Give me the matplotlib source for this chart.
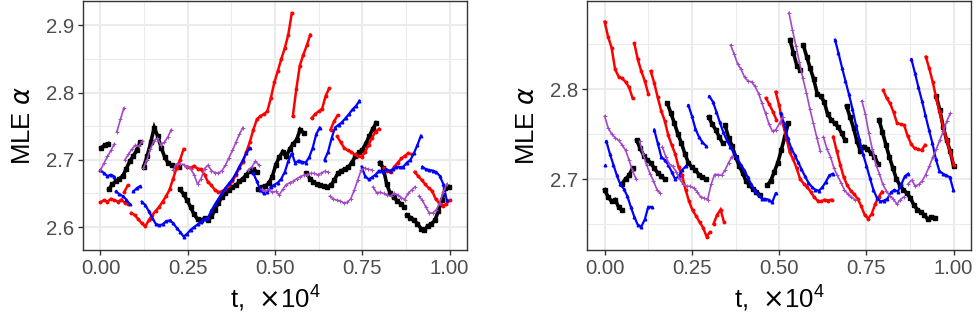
import numpy as np
import matplotlib
matplotlib.use('Agg')
from matplotlib import pyplot as plt

# time step between samples inside a run (units of 1e4)
dt = 0.01

# each series is a list of runs: (start t, [MLE alpha values])
# ---- left panel
red_l = [(0.000, [2.637, 2.640, 2.638, 2.642, 2.640, 2.638, 2.641, 2.636, 2.634]),
         (0.068, [2.652, 2.662]),
         (0.088, [2.621, 2.618, 2.612, 2.606, 2.601, 2.610, 2.618, 2.624, 2.630, 2.638,
                  2.646, 2.656, 2.672, 2.688, 2.700, 2.716]),
         (0.248, [2.690, 2.688, 2.691, 2.687, 2.686, 2.678, 2.667, 2.662, 2.655, 2.652,
                  2.653, 2.656, 2.662, 2.668, 2.678, 2.688, 2.697, 2.712, 2.727, 2.745,
                  2.760, 2.765, 2.768, 2.772, 2.792, 2.815, 2.832, 2.850, 2.866, 2.886, 2.918]),
         (0.551, [2.765, 2.805, 2.840, 2.856, 2.870, 2.886]),
         (0.605, [2.762, 2.768, 2.772, 2.776, 2.795, 2.806]),
         (0.659, [2.745, 2.757, 2.766]),
         (0.678, [2.735, 2.726, 2.718, 2.714, 2.712, 2.708, 2.706, 2.704, 2.712, 2.722,
                  2.733, 2.742, 2.746]),
         (0.812, [2.688, 2.684, 2.682, 2.690, 2.696, 2.702, 2.706, 2.710, 2.708]),
         (0.900, [2.682, 2.676, 2.670, 2.664, 2.658, 2.654, 2.642, 2.636, 2.632, 2.634, 2.640])]

black_l = [(0.002, [2.718, 2.722, 2.724]),
           (0.024, [2.656, 2.664, 2.668, 2.672, 2.676, 2.687, 2.698, 2.706, 2.714, 2.726]),
           (0.124, [2.690, 2.706, 2.726, 2.748, 2.735, 2.718, 2.704, 2.695, 2.692, 2.691, 2.690]),
           (0.228, [2.656, 2.649, 2.640, 2.630, 2.619, 2.612, 2.610, 2.613, 2.610, 2.616,
                    2.626, 2.636, 2.645, 2.650, 2.655, 2.660, 2.662, 2.668, 2.672, 2.678,
                    2.684, 2.686, 2.682]),
           (0.452, [2.656, 2.660, 2.661, 2.665, 2.675, 2.692, 2.704, 2.712, 2.705, 2.716,
                    2.724, 2.730, 2.745, 2.740]),
           (0.590, [2.680, 2.672, 2.667, 2.664, 2.662, 2.661, 2.660, 2.662, 2.670, 2.680,
                    2.684, 2.686, 2.689, 2.696, 2.705, 2.711, 2.715, 2.724, 2.735, 2.746, 2.755]),
           (0.800, [2.696, 2.688, 2.664, 2.650, 2.645, 2.639, 2.635, 2.630]),
           (0.878, [2.618, 2.614, 2.611, 2.605, 2.598, 2.596, 2.602, 2.605, 2.610, 2.624,
                    2.640, 2.658, 2.660])]

blue_l = [(0.000, [2.685, 2.680, 2.676, 2.678, 2.675]),
          (0.044, [2.653, 2.649, 2.646, 2.641, 2.634]),
          (0.094, [2.653, 2.658, 2.661]),
          (0.118, [2.638, 2.633, 2.624, 2.614, 2.605, 2.603, 2.604, 2.609, 2.610, 2.606,
                   2.599, 2.593, 2.586, 2.590, 2.596, 2.600, 2.604, 2.608, 2.612, 2.614,
                   2.625, 2.634, 2.642, 2.651, 2.658, 2.665, 2.671, 2.680, 2.690, 2.700,
                   2.710, 2.718]),
          (0.438, [2.680, 2.668, 2.655, 2.650, 2.652, 2.660, 2.663, 2.666, 2.672, 2.682,
                   2.698, 2.710, 2.695, 2.699, 2.697, 2.696, 2.704, 2.718, 2.738, 2.748]),
          (0.642, [2.700, 2.712, 2.732, 2.748, 2.752, 2.756, 2.762, 2.768, 2.775, 2.780, 2.788]),
          (0.748, [2.690, 2.676, 2.671, 2.674, 2.678, 2.684, 2.682, 2.686, 2.684, 2.686,
                   2.690, 2.689, 2.690, 2.696, 2.700, 2.710, 2.722, 2.736]),
          (0.922, [2.690, 2.686, 2.685, 2.684, 2.682, 2.676, 2.664, 2.640])]

purple_l = [(0.000, [2.685, 2.695, 2.705, 2.714, 2.724]),
            (0.047, [2.742, 2.760, 2.777]),
            (0.070, [2.700, 2.708, 2.716, 2.722, 2.720, 2.728]),
            (0.123, [2.688, 2.700, 2.716, 2.728, 2.732, 2.722, 2.726, 2.734, 2.745]),
            (0.208, [2.685, 2.694, 2.694, 2.693, 2.690, 2.687, 2.678, 2.664, 2.672, 2.687,
                     2.692, 2.684, 2.681, 2.680, 2.684, 2.692, 2.703, 2.714, 2.726, 2.738, 2.748]),
            (0.424, [2.685, 2.690, 2.698, 2.692]),
            (0.462, [2.656, 2.653, 2.656, 2.652, 2.653, 2.648, 2.656, 2.663, 2.666, 2.668,
                     2.672, 2.675, 2.677, 2.678, 2.680, 2.680, 2.678, 2.680, 2.683, 2.682]),
            (0.657, [2.646, 2.642, 2.640, 2.639, 2.636, 2.637, 2.642, 2.655, 2.670, 2.685,
                     2.688, 2.686, 2.685]),
            (0.781, [2.660, 2.651, 2.652, 2.650, 2.648, 2.646, 2.650, 2.648, 2.644, 2.641,
                     2.650, 2.655, 2.660]),
            (0.912, [2.646, 2.640, 2.630, 2.621, 2.621, 2.626, 2.636, 2.652, 2.664])]

# ---- right panel
red_r = [(0.000, [2.875, 2.858, 2.846, 2.822, 2.814, 2.812, 2.808, 2.802, 2.790]),
         (0.085, [2.851, 2.833, 2.820, 2.809, 2.795]),
         (0.132, [2.820, 2.807, 2.791, 2.776, 2.765, 2.749, 2.738, 2.728, 2.713, 2.704,
                  2.688, 2.675, 2.665, 2.659, 2.652, 2.646, 2.636, 2.641]),
         (0.312, [2.650, 2.660, 2.666, 2.652]),
         (0.462, [2.790, 2.783, 2.775, 2.766]),
         (0.490, [2.797, 2.782, 2.762, 2.747, 2.730, 2.722, 2.712, 2.700, 2.695, 2.691,
                  2.686, 2.680, 2.676, 2.675, 2.677, 2.676, 2.677]),
         (0.655, [2.747, 2.731, 2.716, 2.702, 2.693, 2.687, 2.683, 2.678, 2.670, 2.660,
                  2.656, 2.661, 2.672, 2.680, 2.686]),
         (0.798, [2.799, 2.790, 2.784, 2.774, 2.762, 2.761, 2.760, 2.748, 2.739, 2.734,
                  2.733, 2.732, 2.738]),
         (0.920, [2.836, 2.823, 2.808, 2.790, 2.774, 2.758, 2.743, 2.730, 2.716])]

black_r = [(0.000, [2.688, 2.680, 2.675, 2.677, 2.669, 2.665]),
           (0.050, [2.695, 2.700, 2.704, 2.712]),
           (0.092, [2.743, 2.734, 2.726, 2.721, 2.718, 2.712, 2.707, 2.703, 2.700]),
           (0.180, [2.784, 2.773, 2.762, 2.750, 2.740, 2.728, 2.718, 2.713, 2.710, 2.705,
                    2.702, 2.700]),
           (0.298, [2.769, 2.761, 2.755, 2.747, 2.740]),
           (0.345, [2.760, 2.746, 2.737, 2.725, 2.715, 2.707, 2.698, 2.693, 2.689, 2.686, 2.682]),
           (0.466, [2.693, 2.698, 2.708, 2.718, 2.732, 2.747, 2.762]),
           (0.531, [2.855, 2.840, 2.826, 2.821]),
           (0.569, [2.849, 2.836, 2.823, 2.811, 2.795, 2.792, 2.786, 2.772, 2.766, 2.762,
                    2.758, 2.751, 2.743]),
           (0.693, [2.781, 2.769, 2.757, 2.742, 2.731, 2.736, 2.733, 2.729, 2.725, 2.717]),
           (0.786, [2.766, 2.752, 2.738, 2.724, 2.712, 2.700, 2.693, 2.688, 2.684, 2.679,
                    2.671, 2.666, 2.663, 2.660, 2.655, 2.658, 2.657]),
           (0.950, [2.792, 2.777, 2.758, 2.743, 2.731, 2.714])]

blue_r = [(0.000, [2.716]),
          (0.005, [2.742, 2.728, 2.716, 2.704, 2.694, 2.689, 2.681, 2.669, 2.658, 2.649,
                   2.647, 2.655, 2.669, 2.669]),
          (0.142, [2.755, 2.740, 2.725, 2.721, 2.716, 2.708, 2.700, 2.703, 2.710, 2.714]),
          (0.240, [2.782, 2.770, 2.756, 2.747, 2.741, 2.737]),
          (0.300, [2.792, 2.786, 2.775, 2.763, 2.752, 2.743, 2.736, 2.729, 2.723, 2.716,
                   2.710, 2.702, 2.694, 2.687, 2.683, 2.678, 2.678, 2.677, 2.674, 2.684]),
          (0.504, [2.773, 2.762, 2.746, 2.735, 2.727, 2.719, 2.711, 2.703, 2.696, 2.691,
                   2.688, 2.687, 2.691, 2.697, 2.704, 2.706]),
          (0.660, [2.855, 2.840, 2.824, 2.809, 2.794, 2.778, 2.760, 2.744, 2.728, 2.715,
                   2.701, 2.688, 2.679, 2.675, 2.676, 2.678, 2.685, 2.688, 2.686, 2.694,
                   2.703, 2.706]),
          (0.879, [2.833, 2.818, 2.802, 2.787, 2.771, 2.755, 2.740, 2.722, 2.709, 2.706,
                   2.704, 2.702, 2.688])]

purple_r = [(0.000, [2.770, 2.757, 2.750, 2.746, 2.743, 2.738, 2.732, 2.721, 2.709, 2.700]),
            (0.100, [2.742, 2.728, 2.716, 2.706, 2.698, 2.688, 2.684]),
            (0.165, [2.736, 2.725, 2.717, 2.714, 2.708, 2.700, 2.694, 2.692, 2.692, 2.690,
                     2.686, 2.680, 2.679, 2.677, 2.694, 2.705, 2.705, 2.704, 2.710, 2.718, 2.725]),
            (0.361, [2.849, 2.839, 2.828, 2.822, 2.813, 2.809, 2.808, 2.803, 2.795, 2.784,
                     2.773, 2.761, 2.753, 2.755, 2.762, 2.769]),
            (0.528, [2.885, 2.866, 2.848, 2.830, 2.812, 2.796, 2.778, 2.762, 2.746, 2.731]),
            (0.627, [2.747, 2.733, 2.725, 2.712, 2.704, 2.696, 2.688, 2.683, 2.680, 2.677]),
            (0.737, [2.787, 2.772, 2.751, 2.733, 2.716, 2.706, 2.694, 2.687, 2.681, 2.678,
                     2.672, 2.677, 2.680]),
            (0.870, [2.695, 2.699, 2.692, 2.694, 2.698, 2.705, 2.714, 2.724, 2.733, 2.743,
                     2.753, 2.764, 2.773])]

styles = {
    'black': dict(color='black', lw=2.6, marker='s', ms=2.2),
    'red': dict(color='#FF0000', lw=1.8, marker='o', ms=1.8),
    'blue': dict(color='#0000FF', lw=1.6, marker='^', ms=1.9),
    'purple': dict(color='#A448C8', lw=1.2, marker='+', ms=2.2, mew=0.7),
}

plt.rcParams['font.family'] = ['Liberation Sans', 'DejaVu Sans']
plt.rcParams['mathtext.fontset'] = 'dejavusans'

fig = plt.figure(figsize=(9.77, 3.29), dpi=100)
ax1 = fig.add_axes([0.085, 0.240, 0.393, 0.757])
ax2 = fig.add_axes([0.601, 0.240, 0.393, 0.757])


def draw(ax, series):
    for name, runs in series:
        for t0, vals in runs:
            t = t0 + dt * np.arange(len(vals))
            ax.plot(t, vals, linestyle='-', solid_joinstyle='miter', **styles[name])


def decorate(ax, ylim, yticks, yminor):
    ax.set_xlim(-0.05, 1.05)
    ax.set_ylim(*ylim)
    ax.set_xticks([0, 0.25, 0.5, 0.75, 1.0])
    ax.set_xticklabels(['0.00', '0.25', '0.50', '0.75', '1.00'])
    ax.set_xticks([0.125, 0.375, 0.625, 0.875], minor=True)
    ax.set_yticks(yticks)
    ax.set_yticks(yminor, minor=True)
    ax.grid(which='major', color='#EBEBEB', lw=1.5)
    ax.grid(which='minor', color='#EBEBEB', lw=0.75)
    ax.set_axisbelow(True)
    for s in ax.spines.values():
        s.set_color('#333333')
        s.set_linewidth(1.0)
    ax.tick_params(which='major', direction='out', length=3.5, width=1.0,
                   color='#333333', labelcolor='#4D4D4D', labelsize=14.7, pad=3)
    ax.tick_params(which='minor', length=0)
    ax.set_xlabel(r't,  $\times\mathregular{10^{4}}$', fontsize=18.5, labelpad=4)
    ax.set_ylabel(r'MLE $\alpha$', fontsize=18.5, labelpad=8)


draw(ax1, [('black', black_l), ('red', red_l), ('blue', blue_l), ('purple', purple_l)])
draw(ax2, [('black', black_r), ('red', red_r), ('blue', blue_r), ('purple', purple_r)])

decorate(ax1, (2.566, 2.936), [2.6, 2.7, 2.8, 2.9], [2.65, 2.75, 2.85])
ax1.set_yticklabels(['2.6', '2.7', '2.8', '2.9'])
decorate(ax2, (2.621, 2.898), [2.7, 2.8], [2.65, 2.75, 2.85])
ax2.set_yticklabels(['2.7', '2.8'])

fig.savefig('out.png', dpi=100)
